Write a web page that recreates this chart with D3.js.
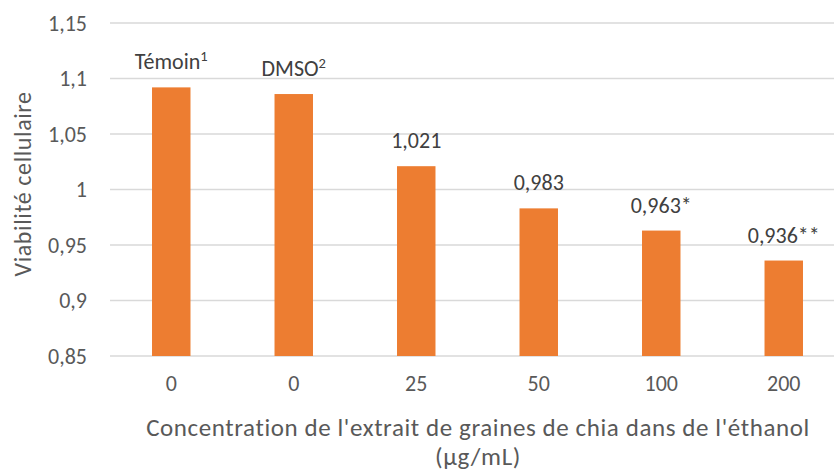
<!DOCTYPE html>
<html>
<head>
<meta charset="utf-8">
<script src="https://cdn.jsdelivr.net/npm/d3@7"></script>
<style>
  body { margin: 0; background: #fff; }
  svg { font-family: Carlito, Lato, sans-serif; }
</style>
</head>
<body>
<svg width="834" height="471"></svg>
<script>
// data
var categories = ["0", "0", "25", "50", "100", "200"];
var values = [1.092, 1.086, 1.021, 0.983, 0.963, 0.936];
var labels = ["Témoin", "DMSO", "1,021", "0,983", "0,963*", "0,936**"];
var labelSup = ["1", "2", "", "", "", ""];
var yTicks = [0.85, 0.9, 0.95, 1, 1.05, 1.1, 1.15];

var svg = d3.select("svg"),
    plotLeft = 110, plotRight = 845, plotTop = 23, plotBottom = 356;

var x = d3.scaleBand()
    .domain(d3.range(categories.length))
    .range([plotLeft, plotRight])
    .paddingInner(0.686)
    .paddingOuter(0.343);

var y = d3.scaleLinear().domain([0.85, 1.15]).range([plotBottom, plotTop]);

var fmt = function (d) { return String(d).replace(".", ","); };

// gridlines
svg.append("g").selectAll("line")
    .data(yTicks).enter().append("line")
    .attr("x1", plotLeft).attr("x2", plotRight)
    .attr("y1", function (d) { return y(d); })
    .attr("y2", function (d) { return y(d); })
    .attr("stroke", "#d9d9d9")
    .attr("stroke-width", 1.3);

// y axis
var gy = svg.append("g")
    .attr("transform", "translate(" + (plotLeft - 23) + ",0)")
    .call(d3.axisLeft(y).tickValues(yTicks).tickFormat(fmt).tickSize(0).tickPadding(0));
gy.select(".domain").remove();
gy.selectAll("text")
    .attr("fill", "#595959")
    .style("font-size", "22px")
    .style("font-family", "Carlito, Lato, sans-serif");

// x axis
var gx = svg.append("g")
    .attr("transform", "translate(0," + plotBottom + ")")
    .call(d3.axisBottom(x).tickFormat(function (i) { return categories[i]; }).tickSize(0).tickPadding(19));
gx.select(".domain").remove();
gx.selectAll("text")
    .attr("fill", "#595959")
    .style("font-size", "22px")
    .style("font-family", "Carlito, Lato, sans-serif");

// bars
svg.append("g").selectAll("rect")
    .data(values).enter().append("rect")
    .attr("x", function (d, i) { return x(i); })
    .attr("width", x.bandwidth())
    .attr("y", function (d) { return y(d); })
    .attr("height", function (d) { return plotBottom - y(d); })
    .attr("fill", "#ed7d31");

// data labels
var lab = svg.append("g").selectAll("text")
    .data(values).enter().append("text")
    .attr("x", function (d, i) { return x(i) + x.bandwidth() / 2; })
    .attr("y", function (d) { return y(d) - 18; })
    .attr("text-anchor", "middle")
    .attr("fill", "#404040")
    .style("font-size", "22px");
lab.append("tspan").text(function (d, i) { return labels[i]; });
lab.append("tspan")
    .attr("dy", -8)
    .style("font-size", "14.5px")
    .text(function (d, i) { return labelSup[i]; });

// axis titles
svg.append("text")
    .attr("x", 478).attr("y", 436)
    .attr("text-anchor", "middle")
    .attr("fill", "#595959")
    .style("font-size", "25px")
    .style("letter-spacing", "0.6px")
    .text("Concentration de l'extrait de graines de chia dans de l'éthanol");
svg.append("text")
    .attr("x", 478).attr("y", 465)
    .attr("text-anchor", "middle")
    .attr("fill", "#595959")
    .style("font-size", "25px")
    .style("letter-spacing", "0.6px")
    .text("(µg/mL)");
svg.append("text")
    .attr("transform", "translate(31,184) rotate(-90)")
    .attr("text-anchor", "middle")
    .attr("fill", "#595959")
    .style("font-size", "24px")
    .style("letter-spacing", "0.6px")
    .text("Viabilité cellulaire");
</script>
</body>
</html>
